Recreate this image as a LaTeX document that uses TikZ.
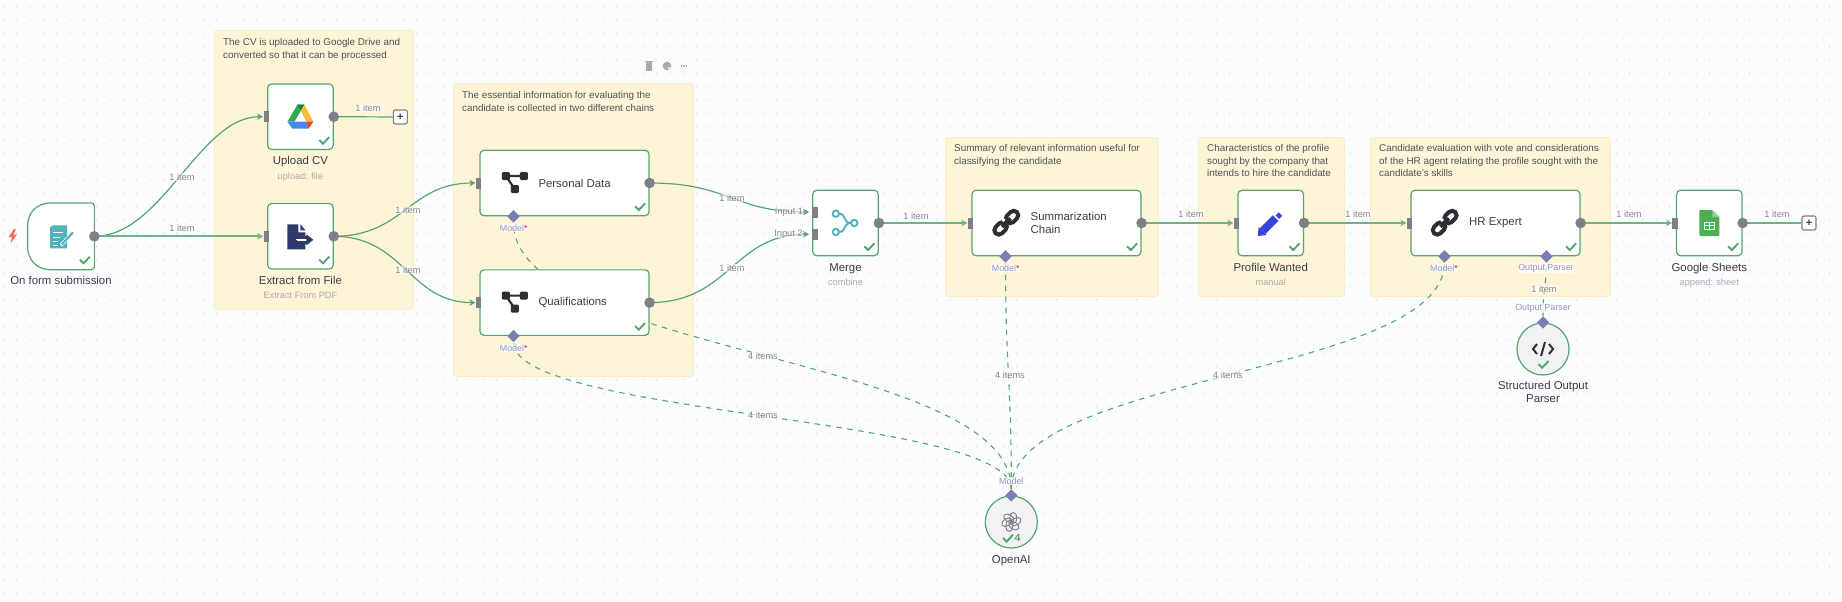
\documentclass[tikz,border=0pt]{standalone}
\usepackage{fontspec}
\setmainfont{Liberation Sans}
\usetikzlibrary{shapes.geometric,arrows.meta}
\definecolor{canvasbg}{HTML}{FBFCFE}
\definecolor{griddot}{HTML}{C9CDD6}
\definecolor{notefill}{HTML}{FEF5D8}
\definecolor{noteline}{HTML}{FBEDC6}
\definecolor{flowgreen}{HTML}{56A66C}
\definecolor{linegreen}{HTML}{6DB384}
\definecolor{portgray}{HTML}{7F7F85}
\definecolor{portblue}{HTML}{7A7EB4}
\definecolor{subgray}{HTML}{A9A9B0}
\definecolor{itemgray}{HTML}{85858D}
\definecolor{darktext}{HTML}{3C3C44}
\definecolor{modeltext}{HTML}{9193C8}
\definecolor{iconteal}{HTML}{4FB2BC}
\definecolor{iconnavy}{HTML}{2F3A6B}
\definecolor{iconink}{HTML}{2E2E32}
\definecolor{iconblue}{HTML}{3A42E0}
\definecolor{iconsheet}{HTML}{4CAF50}
\definecolor{iconear}{HTML}{8CCF8E}
\definecolor{iconbolt}{HTML}{F4705C}
\definecolor{drivegreen}{HTML}{34A853}
\definecolor{drivedark}{HTML}{188038}
\definecolor{driveyellow}{HTML}{F8BE3A}
\definecolor{driveblue}{HTML}{4285F4}
\definecolor{drivered}{HTML}{EA4335}
\pgfdeclarelayer{back}
\pgfsetlayers{back,main}
\tikzset{
    notebox/.style={fill=notefill, draw=noteline, line width=0.8, rounded corners=2.5, anchor=north west, inner sep=0},
    notetext/.style={anchor=north west, align=left, inner sep=0, text=darktext!90, font=\fontsize{9.85}{12.4}\selectfont},
    smallbox/.style={draw=flowgreen, line width=1.2, fill=white, rounded corners=4, minimum width=65.5, minimum height=65.5, inner sep=0},
    widebox/.style={smallbox, minimum width=169},
    roundbox/.style={circle, draw=flowgreen, line width=1.2, fill=black!4!canvasbg, minimum size=52, inner sep=0},
    boxtext/.style={anchor=west, align=left, inner sep=0, text=darktext, font=\fontsize{11.4}{13.3}\selectfont},
    titletext/.style={align=center, inner sep=0, text=darktext, font=\fontsize{11.4}{13.3}\selectfont},
    captext/.style={titletext, text height=9, text depth=3},
    subtext/.style={inner sep=0, text=subgray, text height=8, text depth=2.5, font=\fontsize{9.2}{11}\selectfont},
    itemtext/.style={inner sep=0.5, text=itemgray, fill=white, fill opacity=0.55, text opacity=1, font=\fontsize{9.2}{11}\selectfont},
    porttext/.style={inner sep=0.5, text=modeltext, fill=white, fill opacity=0.7, text opacity=1, font=\fontsize{8.9}{11}\selectfont},
    flow/.style={draw=flowgreen, line width=1.2, ->, shorten >=4},
    straight/.style={draw=linegreen, line width=1.9},
    dashflow/.style={draw=flowgreen, line width=1.1, dash pattern=on 5.5 off 5.5},
    outport/.style={fill=portgray},
    inport/.style={fill=portgray},
    modelport/.style={diamond, fill=portblue, minimum size=12.5, inner sep=0},
    plusbox/.style={draw=portgray, line width=1.1, fill=white, rounded corners=2, minimum size=14, inner sep=0, font=\bfseries\fontsize{11}{11}\selectfont, text=darktext},
    tick/.style={draw=flowgreen, line width=1.9}
}
\begin{document}
\begin{tikzpicture}[>={Stealth[length=6,width=6.5]}, x=1pt, y=-1pt]
    \useasboundingbox (0,0) rectangle (1842,602);
    % canvas and sticky notes
    \begin{pgfonlayer}{back}
        \fill[canvasbg] (0,0) rectangle (1842,603);
        \foreach \i in {0,...,137}
            \foreach \j in {0,...,44}
                \fill[griddot] (3.3+\i*13.33,6.7+\j*13.33) circle (0.6);
        \node[notebox, minimum width=199, minimum height=279] (noteA) at (214,30) {};
        \node[notebox, minimum width=240, minimum height=293] (noteB) at (453,83) {};
        \node[notebox, minimum width=213, minimum height=159] (noteC) at (945,137) {};
        \node[notebox, minimum width=146, minimum height=159] (noteD) at (1198,137) {};
        \node[notebox, minimum width=240, minimum height=159] (noteE) at (1370,137) {};
    \end{pgfonlayer}
    \node[notetext] (textA) at (223,38.5) {The CV is uploaded to Google Drive and\\converted so that it can be processed};
    \node[notetext] (textB) at (462,91.5) {The essential information for evaluating the\\candidate is collected in two different chains};
    \node[notetext] (textC) at (954,144.5) {Summary of relevant information useful for\\classifying the candidate};
    \node[notetext] (textD) at (1207,144.5) {Characteristics of the profile\\sought by the company that\\intends to hire the candidate};
    \node[notetext] (textE) at (1379,144.5) {Candidate evaluation with vote and considerations\\of the HR agent relating the profile sought with the\\candidate's skills};
    % nodes
    \node[smallbox, draw=none, fill=none] (form) at (61,236.3) {};
    \draw[draw=flowgreen, line width=1.2, fill=white] (form.north east) [rounded corners=22] -- (form.north west) -- (form.south west) [rounded corners=3] -- (form.south east) -- cycle;
    \node[smallbox] (upload) at (300.4,116.7) {};
    \node[smallbox] (extract) at (300.4,236.3) {};
    \node[widebox] (personal) at (564.5,183) {};
    \node[widebox] (quals) at (564.5,302.6) {};
    \node[smallbox] (merge) at (845.5,223) {};
    \node[widebox] (summ) at (1056.5,223) {};
    \node[smallbox] (profile) at (1270.7,223) {};
    \node[widebox] (hr) at (1495.5,223) {};
    \node[smallbox] (sheets) at (1709.3,223) {};
    \node[roundbox] (parser) at (1543,349) {};
    \node[roundbox] (openai) at (1011.3,522) {};
    \node[plusbox] (plusA) at (400.3,117) {+};
    \node[plusbox] (plusB) at (1809,223) {+};
    % model ports
    \node[modelport] (personalM) at ([xshift=-51]personal.south) {};
    \node[modelport] (qualsM) at ([xshift=-51]quals.south) {};
    \node[modelport] (summM) at ([xshift=-51]summ.south) {};
    \node[modelport] (hrM) at ([xshift=-51]hr.south) {};
    \node[modelport] (hrP) at ([xshift=51]hr.south) {};
    \node[modelport] (parserP) at (parser.north) {};
    \node[modelport] (openaiM) at (openai.north) {};
    \coordinate (mergeA) at (813,212);
    \coordinate (mergeB) at (813,234.3);
    % dashed links stay behind the boxes
    \begin{pgfonlayer}{back}
        \draw[dashflow] (openaiM) .. controls (1011.3,355) and (514,355) .. (personalM);
        \draw[dashflow] (openaiM) .. controls (1011.3,416) and (514,416) .. (qualsM);
        \draw[dashflow] (openaiM) .. controls (1011.3,375) and (1005.7,375) .. (summM);
        \draw[dashflow] (openaiM) .. controls (1011.3,375) and (1444,375) .. (hrM);
        \draw[dashflow] (parserP) .. controls (1543,289) and (1546,289) .. (hrP);
    \end{pgfonlayer}
    % solid links
    \draw[flow] (form.east) .. controls +(68,0) and +(-68,0) .. (upload.west);
    \draw[straight, ->, shorten >=4] (form.east) -- (extract.west);
    \draw[flow] (extract.east) .. controls +(70,0) and +(-70,0) .. (personal.west);
    \draw[flow] (extract.east) .. controls +(70,0) and +(-70,0) .. (quals.west);
    \draw[flow] (personal.east) .. controls +(80,0) and +(-80,0) .. (mergeA);
    \draw[flow] (quals.east) .. controls +(80,0) and +(-80,0) .. (mergeB);
    \draw[flow, shorten >=0, -] (upload.east) -- (plusA);
    \draw[straight, ->, shorten >=4] (merge.east) -- (summ.west);
    \draw[straight, ->, shorten >=4] (summ.east) -- (profile.west);
    \draw[straight, ->, shorten >=4] (profile.east) -- (hr.west);
    \draw[straight, ->, shorten >=4] (hr.east) -- (sheets.west);
    \draw[straight] (sheets.east) -- (plusB);
    % ports
    \foreach \n in {form,upload,extract,personal,quals,merge,summ,profile,hr,sheets}
        \fill[outport] (\n.east) circle (5.3);
    \foreach \n in {upload,extract,personal,quals,summ,profile,hr,sheets}
        \fill[inport] ([shift={(-3.5,-5.5)}]\n.west) rectangle +(5.5,11);
    \foreach \c in {mergeA,mergeB}
        \fill[inport] ([shift={(-1,-5.5)}]\c) rectangle +(5.5,11);
    % ticks
    \foreach \n in {form,upload,extract,personal,quals,merge,summ,profile,hr,sheets}
        \draw[tick] ([shift={(-14.5,-10)}]\n.south east) -- +(3.7,3.7) -- +(10,-3);
    \draw[tick] (1538.5,364) -- +(3.7,3.7) -- +(10,-3);
    \draw[tick] (1003,538) -- +(3.7,3.7) -- +(10,-3.5);
    \node[inner sep=0, text=flowgreen, font=\bfseries\fontsize{10.5}{11}\selectfont] (openaiN) at (1017.5,538) {4};
    % captions
    \foreach \n/\t/\s in {upload/Upload CV/upload: file, extract/Extract from File/Extract From PDF, merge/Merge/combine, profile/Profile Wanted/manual, sheets/Google Sheets/append: sheet} {
        \node[captext, below=5.7pt] (\n T) at (\n.south) {\t};
        \node[subtext, below=2.7pt] (\n S) at (\n T.south) {\s};
    }
    \node[captext, below=5.7pt] (formT) at (form.south) {On form submission};
    \node[titletext, below=5.5pt] (parserT) at (parser.south) {Structured Output\\Parser};
    \node[captext, below=5.5pt] (openaiT) at (openai.south) {OpenAI};
    \node[boxtext] (personalT) at (538.3,183) {Personal Data};
    \node[boxtext] (qualsT) at (538.3,302.3) {Qualifications};
    \node[boxtext] (summT) at (1030.5,223) {Summarization\\Chain};
    \node[boxtext] (hrT) at (1469,223) {HR Expert};
    % port labels
    \node[porttext] (personalL) at (513.7,228) {Model{\color{red}*}};
    \node[porttext] (qualsL) at (513.7,348) {Model{\color{red}*}};
    \node[porttext] (summL) at (1005.7,268) {Model{\color{red}*}};
    \node[porttext] (hrL) at (1444,268) {Model{\color{red}*}};
    \node[porttext] (hrO) at (1546,268) {Output Parser};
    \node[porttext] (parserO) at (1543,308) {Output Parser};
    \node[porttext] (openaiO) at (1011.3,481) {Model};
    \node[itemtext, inner sep=0] (inA) at (789,212) {Input 1};
    \node[itemtext, inner sep=0] (inB) at (788.5,234) {Input 2};
    % item counts
    \foreach \x/\y/\t [count=\i] in {182/177/1 item, 182/228/1 item, 368/108/1 item, 408/210/1 item, 408/270/1 item, 732/198/1 item, 732/268/1 item, 916/216/1 item, 1191/214/1 item, 1358/214/1 item, 1629/214/1 item, 1777/214/1 item, 1544/289/1 item, 763/356/4 items, 763/415/4 items, 1010/375/4 items, 1228/375/4 items}
        \node[itemtext] (count\i) at (\x,\y) {\t};
    % icons
    \fill[iconbolt] (14,229) -- (8.5,237) -- (12,237) -- (10.5,243.5) -- (17,234.5) -- (13.5,234.5) -- (16,229) -- cycle;
    \begin{scope}[shift={(form.center)}]
        \fill[iconteal] (-11,-9) -- (-8,-11) -- (6,-11) -- (6,12) -- (-11,12) -- cycle;
        \draw[white, line width=0.9] (-8,-4) -- (2,-4) (-8,1) -- (-1,1) (-8,5) -- (-3,5) (-8,9) -- (-3,9);
        \draw[white, line width=3.5] (0,9) -- (13,-5);
        \draw[iconteal, line width=2.2] (1,8) -- (12,-4);
    \end{scope}
    \begin{scope}[shift={(upload.center)}]
        \fill[drivegreen] (-3,-12) -- (4,-12) -- (-6,5) -- (-13,5) -- cycle;
        \fill[drivedark] (-3,-12) -- (4,-12) -- (0.5,-6) -- cycle;
        \fill[driveyellow] (4,-12) -- (13,5) -- (6,5) -- (0.5,-6) -- cycle;
        \fill[driveblue] (-13,5) -- (5.7,5) -- (8,12) -- (-8,12) -- cycle;
        \fill[drivered] (5.7,5) -- (13,5) -- (8,12) -- cycle;
    \end{scope}
    \begin{scope}[shift={(extract.center)}]
        \fill[iconnavy] (-13,-12) -- (-2,-12) -- (-2,-4) -- (5,-4) -- (5,13) -- (-13,13) -- cycle;
        \fill[iconnavy] (0,-12) -- (5,-6) -- (0,-6) -- cycle;
        \draw[white, line width=3.5] (-3,3) -- (8,3);
        \draw[iconnavy, line width=3] (-4,1) -- (8,1) (-4,6) -- (8,6);
        \draw[white, line width=1.2] (-4,3.5) -- (9,3.5);
        \fill[iconnavy] (6,-2) -- (13,3.5) -- (6,9) -- cycle;
    \end{scope}
    \foreach \y in {183, 302.6} {
        \begin{scope}[shift={(514.8,\y)}]
            \draw[iconink, line width=2.2] (-9,-7) -- (9,-7) (-9,-7) -- (0,6);
            \fill[iconink, rounded corners=1.2] (-13,-11) rectangle +(8,8);
            \fill[iconink, rounded corners=1.2] (5,-11) rectangle +(8,8);
            \fill[iconink, rounded corners=1.2] (-4,2) rectangle +(8,8);
        \end{scope}
    }
    \foreach \x in {1006.3, 1444.7} {
        \begin{scope}[shift={(\x,222.7)}, rotate=45]
            \draw[iconink, line width=4, rounded corners=4.5] (1,-4.5) rectangle (15,4.5);
            \draw[iconink, line width=4, rounded corners=4.5] (-15,-4.5) rectangle (-1,4.5);
            \draw[white, line width=4] (-1.5,-4.5) -- (1.5,-4.5);
            \draw[iconink, line width=3.6] (-6,0) -- (6,0);
        \end{scope}
    }
    \begin{scope}[shift={(merge.center)}]
        \draw[iconteal, line width=1.9] (-9.7,-9.3) circle (3.2) (8.8,0) circle (3.2) (-9.7,9) circle (3.2);
        \draw[iconteal, line width=1.9] (-6.5,-9.3) .. controls (1,-9.3) and (-3,0) .. (5.6,0) (-6.5,9) .. controls (1,9) and (-3,0) .. (5.6,0);
    \end{scope}
    \begin{scope}[shift={(profile.center)}]
        \draw[iconblue, line width=8] (-8,8) -- (5,-5);
        \fill[iconblue] (-12,4) -- (-4,12) -- (-13,13) -- cycle;
        \draw[iconblue, line width=4.5] (6.5,-9) -- (10,-5.5);
    \end{scope}
    \begin{scope}[shift={(sheets.center)}]
        \fill[iconsheet, rounded corners=1] (-10,-13) -- (3,-13) -- (10,-6) -- (10,13) -- (-10,13) -- cycle;
        \fill[iconear] (3,-13) -- (10,-6) -- (3,-6) -- cycle;
        \draw[white, line width=0.9] (-5,-1) rectangle (5,6) (-5,2.5) -- (5,2.5) (0,-1) -- (0,6);
    \end{scope}
    \begin{scope}[shift={(parser.center)}]
        \draw[iconink, line width=2] (-6,-5) -- (-10,0) -- (-6,5) (6,-5) -- (10,0) -- (6,5) (2,-7) -- (-2,7);
    \end{scope}
    \begin{scope}[shift={(openai.center)}]
        \foreach \a in {0,60,...,300}
            \draw[portgray, line width=0.9, rotate=\a] (2,-4) ellipse (3.6 and 5.6);
    \end{scope}
    % toolbar
    \fill[subgray] (646,62) rectangle (652,71);
    \fill[subgray] (645,61) rectangle (653,62.2);
    \fill[subgray] (667,66) circle (4.3);
    \fill[white] (669,68) circle (1.2);
    \foreach \x in {681.7,684,686.3}
        \fill[portgray] (\x,66) circle (0.8);
\end{tikzpicture}
\end{document}
